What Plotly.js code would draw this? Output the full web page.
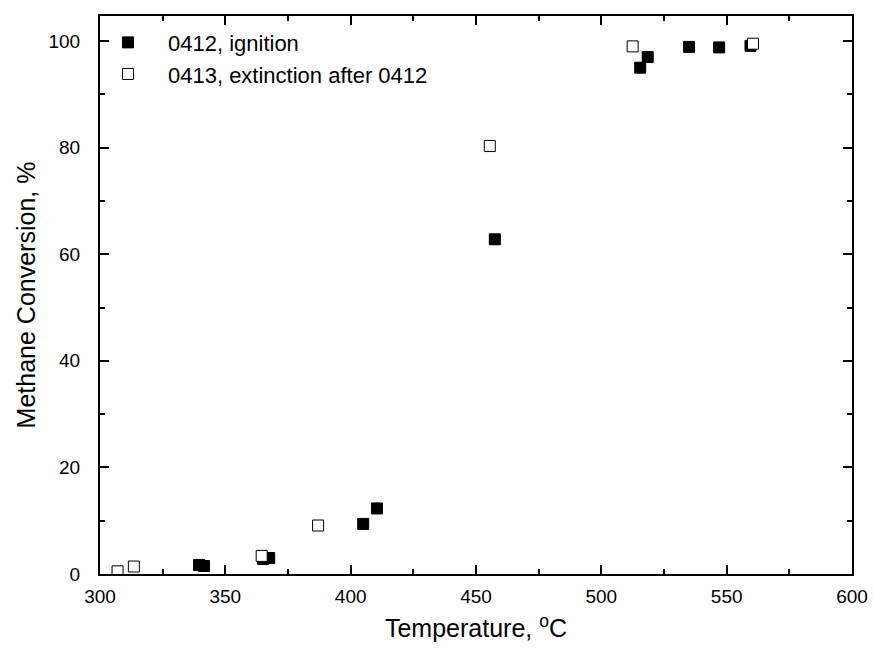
<!DOCTYPE html>
<html>
<head>
<meta charset="utf-8">
<script src="https://cdn.plot.ly/plotly-3.0.1.min.js"></script>
<style>html,body{margin:0;padding:0;background:#fff;}#chart{width:874px;height:657px;}</style>
</head>
<body>
<div id="chart"></div>
<script>
// Series 0412, ignition (filled squares)
const ignitionT = [339.5, 341.5, 365, 367.5, 405, 410.5, 457.5, 515.5, 518.5, 535, 547, 559.5];
const ignitionX = [1.7, 1.5, 2.8, 3.0, 9.4, 12.3, 62.8, 95.0, 97.0, 98.9, 98.8, 99.1];
// Series 0413, extinction after 0412 (open squares)
const extinctionT = [307, 313.5, 364.5, 387, 455.5, 512.5, 560.5];
const extinctionX = [0.5, 1.4, 3.4, 9.1, 80.3, 99.0, 99.5];

const seriesNames = ["0412, ignition", "0413, extinction after 0412"];
const xTicks = [300, 350, 400, 450, 500, 550, 600];
const yTicks = [0, 20, 40, 60, 80, 100];

const font = "Liberation Sans, Arial, Helvetica, sans-serif";

const traces = [
  {
    x: ignitionT, y: ignitionX, name: seriesNames[0], type: "scatter", mode: "markers",
    marker: {symbol: "square", size: 11, color: "#000", line: {color: "#000", width: 1}}
  },
  {
    x: extinctionT, y: extinctionX, name: seriesNames[1], type: "scatter", mode: "markers",
    marker: {symbol: "square", size: 11, color: "#fff", line: {color: "#000", width: 1}}
  }
];

const axisCommon = {
  showgrid: false, zeroline: false, showline: true, linecolor: "#000", linewidth: 2,
  mirror: "ticks", ticks: "inside", ticklen: 9, tickwidth: 2, tickcolor: "#000",
  tickfont: {family: font, size: 19, color: "#000"}
};

const layout = {
  width: 874, height: 657,
  margin: {l: 100, r: 22, t: 16, b: 83},
  paper_bgcolor: "#fff", plot_bgcolor: "#fff",
  font: {family: font, color: "#000"},
  showlegend: true,
  legend: {
    x: -0.016, y: 0.99, xanchor: "left", yanchor: "top",
    bgcolor: "rgba(0,0,0,0)", borderwidth: 0,
    font: {family: font, size: 22, color: "#000"},
    itemwidth: 70, tracegroupgap: 0
  },
  xaxis: Object.assign({}, axisCommon, {
    range: [300, 600], tickvals: xTicks, ticktext: xTicks.map(String),
    ticklabelstandoff: 4,
    minor: {dtick: 25, ticks: "inside", ticklen: 5, tickwidth: 2, tickcolor: "#000"},
    title: {text: "Temperature, <sup>o</sup>C", font: {family: font, size: 25, color: "#000"}, standoff: 14}
  }),
  yaxis: Object.assign({}, axisCommon, {
    range: [0, 104.7], tickvals: yTicks, ticktext: yTicks.map(String),
    ticklabelstandoff: 14,
    minor: {dtick: 10, ticks: "inside", ticklen: 5, tickwidth: 2, tickcolor: "#000"},
    title: {text: "Methane Conversion, %", font: {family: font, size: 25, color: "#000"}, standoff: 6}
  })
};

Plotly.newPlot("chart", traces, layout, {displayModeBar: false, staticPlot: true});
</script>
</body>
</html>
